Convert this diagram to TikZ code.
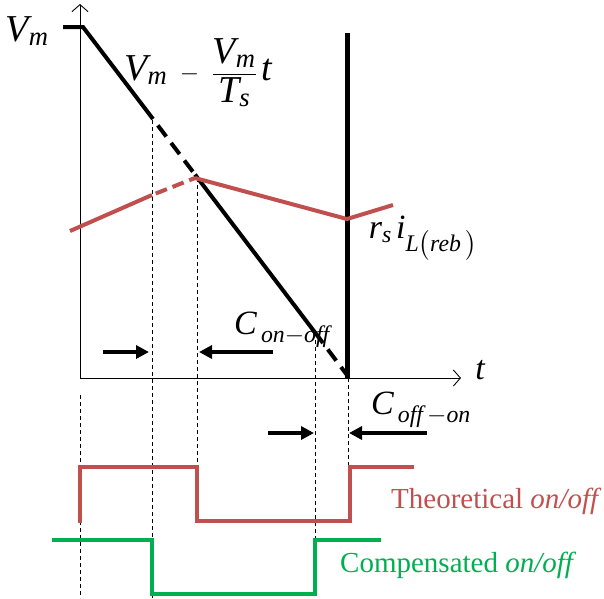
\documentclass[tikz,border=0pt]{standalone}
\usepackage{amsmath}
\usepackage{fontspec}
\setmainfont{Liberation Serif}
\usetikzlibrary{arrows.meta}
\definecolor{sigred}{HTML}{C0504D}
\definecolor{siggreen}{HTML}{00B050}
\newcommand\vi[1]{\textit{#1}}
\begin{document}
\begin{tikzpicture}[x=1pt,y=-1pt,
  axis/.style={line width=0.9pt},
  guide/.style={line width=0.8pt,dash pattern=on 4pt off 3pt},
  ramp/.style={line width=4pt},
  rampdash/.style={line width=4pt,dash pattern=on 14pt off 8pt,dash phase=-8pt},
  redsig/.style={line width=4pt,sigred},
  greensig/.style={line width=4pt,siggreen},
  marker/.style={line width=4pt,-{Triangle[length=13pt,width=13pt]}},
  lbl/.style={inner sep=0pt,font=\fontsize{29}{32}\selectfont},
  clbl/.style={inner sep=0pt,font=\fontsize{34}{38}\selectfont},
  mlbl/.style={inner sep=0pt,font=\fontsize{38}{42}\selectfont}]
\useasboundingbox (0,0) rectangle (604,598);

% axes
\coordinate (O) at (80,378);
\coordinate (ytop) at (80,4);
\coordinate (xend) at (461,378);
\draw[axis,-{Straight Barb[length=7pt,width=16pt]}] (O) -- (ytop);
\draw[axis,-{Straight Barb[length=7pt,width=16pt]}] (O) -- (xend);
\node[clbl] (tlab) at (480,370) {$\vi{t}$};

% guide lines
\draw[guide] (80,395) -- (80,598);
\draw[guide] (152,120) -- (152,598);
\draw[guide] (197,178) -- (197,468);
\draw[guide] (315,340) -- (315,542);
\draw[guide] (348,378) -- (348,468);

% ramp
\draw[ramp,line join=miter] (63,27) -- (83,27) -- (153,119);
\draw[rampdash] (153,119) -- (195,174.5);
\draw[ramp] (195,174.5) -- (323,343);
\draw[rampdash] (323,343) -- (347,375);
\draw[line width=5pt] (347,33) -- (347,378);

% sensed current
\draw[redsig] (70,231) -- (152,195);
\draw[redsig,dash pattern=on 12pt off 6pt,dash phase=-4pt] (152,195) -- (195,178);
\draw[redsig,line join=miter] (195,178) -- (347,219) -- (393,205);

% labels
\node[mlbl] (vm) at (27,31) {$\vi{V}_{\vi{m}}$};
\node[mlbl] (ramplab) at (198,73) {$\vi{V}_{\vi{m}}\;-\;\dfrac{\vi{V}_{\vi{m}}}{\vi{T}_{\vi{s}}}\,\vi{t}$};
\node[clbl] (rs) at (423,238) {$\vi{r}_{\vi{s}}\,\vi{i}_{\vi{L}\bigl(\vi{reb}\,\bigr)}$};
\node[clbl] (con) at (282,330) {$\vi{C}_{\,\vi{on}-\vi{off}}$};
\node[clbl] (coff) at (421,410) {$\vi{C}_{\,\vi{off}\,-\vi{on}}$};

% dead-time markers
\coordinate (a1) at (103,352); \coordinate (a1e) at (149,352);
\coordinate (a2) at (273,352); \coordinate (a2e) at (199,352);
\coordinate (b1) at (268,433); \coordinate (b1e) at (314,433);
\coordinate (b2) at (427,433); \coordinate (b2e) at (349,433);
\draw[marker] (a1) -- (a1e);
\draw[marker] (a2) -- (a2e);
\draw[marker] (b1) -- (b1e);
\draw[marker] (b2) -- (b2e);

% switching signals
\draw[redsig,line join=miter] (80,523) -- (80,467) -- (197,467) -- (197,521) -- (350,521) -- (350,467) -- (414,467);
\draw[greensig,line join=miter] (52,540) -- (152,540) -- (152,594) -- (315,594) -- (315,540) -- (381,540);
\node[lbl,text=sigred,anchor=west] (theo) at (391,501) {Theoretical \textit{on/off}};
\node[lbl,text=siggreen,anchor=west] (comp) at (340,565) {Compensated \textit{on/off}};
\end{tikzpicture}
\end{document}
